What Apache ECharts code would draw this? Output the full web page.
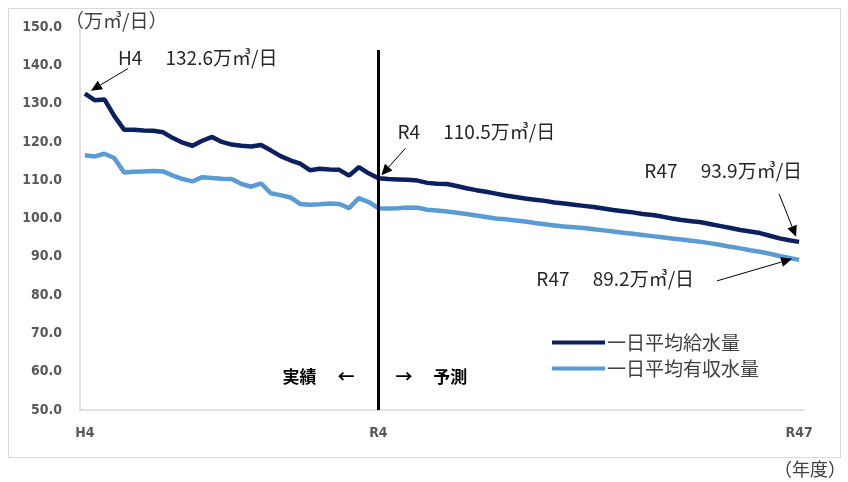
<!DOCTYPE html>
<html>
<head>
<meta charset="utf-8">
<script src="https://cdn.jsdelivr.net/npm/echarts@6/dist/echarts.min.js"></script>
<style>
html,body{margin:0;padding:0;background:#fff;}
#main{width:848px;height:482px;}
</style>
</head>
<body>
<div id="main"></div>
<script>
// ---- data ----
const years = ['H4','H5','H6','H7','H8','H9','H10','H11','H12','H13','H14','H15','H16','H17','H18','H19','H20','H21','H22','H23','H24','H25','H26','H27','H28','H29','H30',
  'R1','R2','R3','R4','R5','R6','R7','R8','R9','R10','R11','R12','R13','R14','R15','R16','R17','R18','R19','R20','R21','R22','R23','R24','R25','R26','R27','R28','R29','R30',
  'R31','R32','R33','R34','R35','R36','R37','R38','R39','R40','R41','R42','R43','R44','R45','R46','R47'];
const shownTicks = ['H4','R4','R47'];
const supply = [132.6,130.9,131.1,126.8,123.2,123.2,123.0,122.9,122.5,121.0,119.8,119.0,120.3,121.3,120.0,119.3,119.0,118.8,119.2,117.8,116.3,115.2,114.3,112.6,113.0,112.8,112.7,111.2,113.4,111.8,110.5,
  110.3,110.2,110.1,109.9,109.3,109.1,109.0,108.5,107.9,107.4,107.0,106.5,106.0,105.6,105.2,104.9,104.6,104.2,103.9,103.6,103.3,103.0,102.6,102.2,101.9,101.6,101.2,100.9,100.5,100.0,
  99.6,99.3,99.0,98.5,98.0,97.5,97.0,96.6,96.2,95.5,94.8,94.3,93.9];
const revenue = [116.5,116.2,116.9,115.8,112.0,112.2,112.3,112.4,112.3,111.2,110.3,109.7,110.8,110.6,110.4,110.3,109.0,108.3,109.2,106.6,106.1,105.5,103.8,103.6,103.7,103.9,103.8,102.7,105.3,104.3,102.7,
  102.6,102.7,102.9,102.8,102.3,102.1,101.8,101.5,101.2,100.8,100.4,100.0,99.8,99.5,99.2,98.8,98.5,98.2,97.9,97.7,97.5,97.2,96.9,96.6,96.3,96.0,95.7,95.4,95.1,94.8,
  94.5,94.2,93.9,93.5,93.1,92.6,92.2,91.7,91.3,90.8,90.2,89.7,89.2];
const seriesNames = ['一日平均給水量','一日平均有収水量'];
const yTicks = {min:50, max:150, interval:10};
const splitYear = 'R4';
const notes = [
  {idx:0,  series:0, text:'H4\u3000 132.6万㎥/日'},
  {idx:30, series:0, text:'R4\u3000 110.5万㎥/日'},
  {idx:73, series:0, text:'R47\u3000 93.9万㎥/日'},
  {idx:73, series:1, text:'R47\u3000 89.2万㎥/日'}
];

const FONT = "'Noto Sans CJK JP','Noto Sans',sans-serif";
const NUMFONT = "'DejaVu Sans Condensed','Liberation Sans',sans-serif";
const chart = echarts.init(document.getElementById('main'));
const option = {
  animation:false,
  backgroundColor:'#fff',
  textStyle:{fontFamily:FONT},
  title:[
    {text:'（万㎥/日）', left:60, top:6, textStyle:{fontSize:19, fontWeight:'normal', color:'#404040', fontFamily:FONT}},
    {text:'（年度）', right:-3, top:455, textStyle:{fontSize:18, fontWeight:'normal', color:'#404040', fontFamily:FONT}}
  ],
  grid:{left:80, right:44, top:27, bottom:72, containLabel:false},
  legend:{
    orient:'vertical', left:547, top:328, itemGap:7,
    icon:'rect', itemWidth:53, itemHeight:4,
    textStyle:{fontSize:19, color:'#404040', fontFamily:FONT, padding:[0,0,0,-3]},
    data:seriesNames
  },
  xAxis:{
    type:'category', data:years, boundaryGap:true,
    axisLine:{lineStyle:{color:'#d9d9d9', width:1.5}},
    axisTick:{show:false},
    axisLabel:{
      interval:(i, v)=>shownTicks.includes(v),
      margin:16, color:'#595959', fontWeight:'bold', fontSize:14, fontFamily:NUMFONT
    },
    splitLine:{show:false}
  },
  yAxis:{
    type:'value', min:yTicks.min, max:yTicks.max, interval:yTicks.interval,
    axisLine:{show:true, lineStyle:{color:'#d9d9d9', width:1.5}},
    axisTick:{show:false},
    splitLine:{show:false},
    axisLabel:{formatter:v=>v.toFixed(1), margin:18, color:'#595959', fontWeight:'bold', fontSize:14, fontFamily:NUMFONT}
  },
  series:[
    {name:seriesNames[0], type:'line', data:supply, symbol:'none', color:'#0c2060',
      lineStyle:{width:4.5, color:'#0c2060'}, z:3,
      markLine:{silent:true, symbol:['none','none'], label:{show:false},
        lineStyle:{color:'#000', width:3, type:'solid'},
        data:[[{coord:[splitYear,144]},{coord:[splitYear,50]}]]}
    },
    {name:seriesNames[1], type:'line', data:revenue, symbol:'none', color:'#5b9bd5',
      lineStyle:{width:4.5, color:'#5b9bd5'}, z:2}
  ]
};
chart.setOption(option);

// ---- annotations anchored on data points ----
const vals = [supply, revenue];
function P(i, v){ return chart.convertToPixel({gridIndex:0}, [i, v]); }
function arrow(x1,y1,x2,y2){
  const a = Math.atan2(y2-y1, x2-x1), L=11, W=5;
  const bx = x2 - L*Math.cos(a), by = y2 - L*Math.sin(a);
  const nx = -Math.sin(a)*W, ny = Math.cos(a)*W;
  return [
    {type:'line', shape:{x1:x1,y1:y1,x2:bx,y2:by}, style:{stroke:'#000', lineWidth:1}, z:10},
    {type:'polygon', shape:{points:[[x2,y2],[bx+nx,by+ny],[bx-nx,by-ny]]}, style:{fill:'#000'}, z:10}
  ];
}
const g = [];
const tstyle = {fontSize:19, fill:'#262626', fontFamily:FONT};
// H4
let p = P(notes[0].idx, vals[notes[0].series][notes[0].idx]);
g.push(...arrow(p[0]+43, p[1]-25, p[0]+6, p[1]-3));
g.push({type:'text', x:p[0]+33, y:p[1]-36, style:Object.assign({text:notes[0].text, textVerticalAlign:'middle', textAlign:'left'}, tstyle), z:10});
// R4
p = P(notes[1].idx, vals[notes[1].series][notes[1].idx]);
g.push(...arrow(p[0]+27, p[1]-30, p[0]+3, p[1]-3));
g.push({type:'text', x:p[0]+19, y:p[1]-47, style:Object.assign({text:notes[1].text, textVerticalAlign:'middle', textAlign:'left'}, tstyle), z:10});
// R47 supply
p = P(notes[2].idx, vals[notes[2].series][notes[2].idx]);
g.push(...arrow(p[0]-20, p[1]-48, p[0]-3, p[1]-5));
g.push({type:'text', x:p[0]+3, y:p[1]-71, style:Object.assign({text:notes[2].text, textVerticalAlign:'middle', textAlign:'right'}, tstyle), z:10});
// R47 revenue
p = P(notes[3].idx, vals[notes[3].series][notes[3].idx]);
g.push(...arrow(p[0]-82, p[1]+21, p[0]-7, p[1]-1));
g.push({type:'text', x:p[0]-105, y:p[1]+19, style:Object.assign({text:notes[3].text, textVerticalAlign:'middle', textAlign:'right'}, tstyle), z:10});
// 実績 / 予測
const ps = P(years.indexOf(splitYear), 58.8);
const bstyle = {fontSize:17, fontWeight:'bold', fill:'#000', fontFamily:FONT, textVerticalAlign:'middle'};
g.push({type:'text', x:ps[0]-24, y:ps[1], style:Object.assign({text:'実績\u3000 ←', textAlign:'right'}, bstyle), z:10});
g.push({type:'text', x:ps[0]+17, y:ps[1], style:Object.assign({text:'→\u3000 予測', textAlign:'left'}, bstyle), z:10});
// frame
g.push({type:'rect', shape:{x:8.5, y:8.5, width:832, height:449}, style:{fill:'none', stroke:'#d9d9d9', lineWidth:1}, z:-1});
chart.setOption({graphic:g});
</script>
</body>
</html>
